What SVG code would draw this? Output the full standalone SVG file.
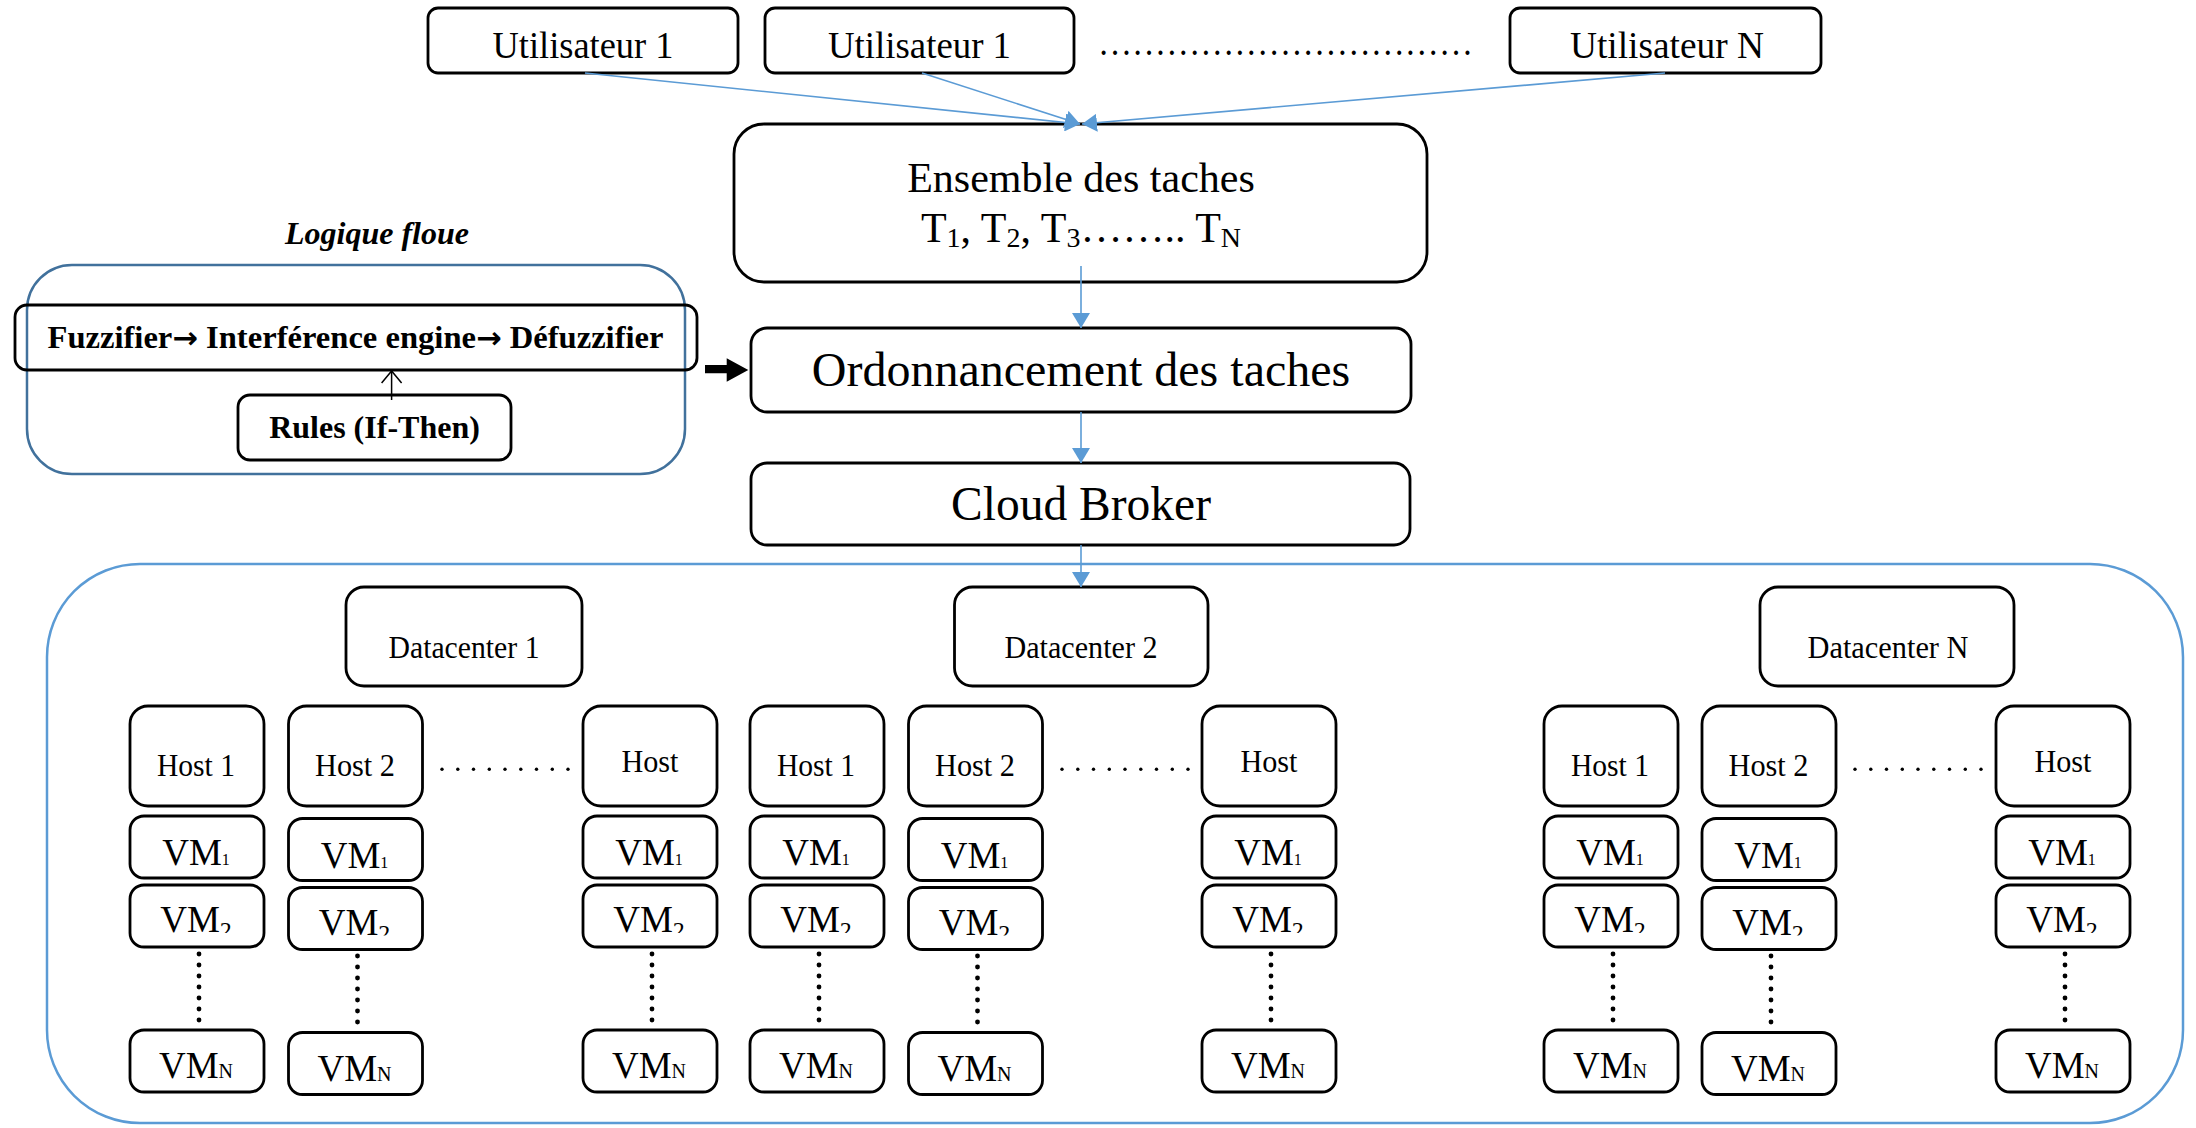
<svg xmlns="http://www.w3.org/2000/svg" width="2196" height="1128" viewBox="0 0 2196 1128">
  <style>
    .box{fill:#fff;stroke:#000;stroke-width:2.8}
    .t{font-family:"Liberation Serif","Times New Roman",serif;fill:#000}
    .b{font-weight:bold}
    .user{font-size:38px;text-anchor:middle}
    .dc{font-size:31.5px;text-anchor:middle}
    .host{font-size:31.5px;text-anchor:middle}
    .vm{font-size:37px;text-anchor:middle}
    .arr{font-family:"DejaVu Sans",sans-serif;font-weight:bold;font-size:30px}
    .link{stroke:#5B9BD5;stroke-width:1.6;fill:none}
    .dot{fill:#000}
  </style>
  <defs>
    <marker id="blueHead" markerUnits="userSpaceOnUse" markerWidth="16" markerHeight="18" refX="15" refY="9" orient="auto">
      <path d="M0,0 L15,9 L0,18 Z" fill="#5B9BD5"/>
    </marker>
    <marker id="openHead" markerUnits="userSpaceOnUse" markerWidth="24" markerHeight="24" refX="13" refY="11" orient="auto">
      <path d="M1,1 L13,11 L1,21" fill="none" stroke="#000" stroke-width="1.5"/>
    </marker>
    <!-- cuts the lower part of the "2" subscript in the VM2 labels -->
    <clipPath id="cut" clipPathUnits="userSpaceOnUse">
      <rect x="0" y="0" width="134" height="48"/>
    </clipPath>
  </defs>

  <!-- users -->
  <g id="user-1a">
    <rect class="box" x="428" y="8" width="310" height="65" rx="10"/>
    <text class="t user" x="583" y="58" textLength="181" lengthAdjust="spacingAndGlyphs">Utilisateur 1</text>
  </g>
  <g id="user-1b">
    <rect class="box" x="765" y="8" width="309" height="65" rx="10"/>
    <text class="t user" x="919.5" y="58" textLength="183" lengthAdjust="spacingAndGlyphs">Utilisateur 1</text>
  </g>
  <text class="t" x="1098" y="55" font-size="37" textLength="375" lengthAdjust="spacingAndGlyphs">……………………………</text>
  <g id="user-n">
    <rect class="box" x="1510" y="8" width="311" height="65" rx="10"/>
    <text class="t user" x="1667" y="58" textLength="194" lengthAdjust="spacingAndGlyphs">Utilisateur N</text>
  </g>

  <!-- task set -->
  <g id="tasks">
    <rect class="box" x="734" y="124" width="693" height="158" rx="30"/>
    <text class="t" x="1081" y="192" font-size="42" text-anchor="middle">Ensemble des taches</text>
    <text class="t" x="1081" y="242" font-size="42" text-anchor="middle">T<tspan font-size="28" dy="5">1</tspan><tspan dy="-5">, T</tspan><tspan font-size="28" dy="5">2</tspan><tspan dy="-5">, T</tspan><tspan font-size="28" dy="5">3</tspan><tspan dy="-5">…….. T</tspan><tspan font-size="28" dy="5">N</tspan></text>
  </g>

  <!-- scheduler -->
  <g id="scheduling">
    <rect class="box" x="751" y="328" width="660" height="84" rx="16"/>
    <text class="t" x="1081" y="386" font-size="48" text-anchor="middle">Ordonnancement des taches</text>
  </g>

  <!-- broker -->
  <g id="broker">
    <rect class="box" x="751" y="463" width="659" height="82" rx="16"/>
    <text class="t" x="1081" y="520" font-size="47.5" text-anchor="middle">Cloud Broker</text>
  </g>

  <!-- fuzzy logic block -->
  <g id="fuzzy-logic">
    <text class="t b" x="377" y="244" font-size="32" font-style="italic" text-anchor="middle">Logique floue</text>
    <rect x="27" y="265" width="658" height="209" rx="45" fill="none" stroke="#41719C" stroke-width="2.5"/>
  </g>
  <g id="fuzzy-chain">
    <rect x="15" y="305" width="682" height="65" rx="12" fill="none" stroke="#000" stroke-width="2.8"/>
    <text class="t b" x="47.5" y="348" font-size="32" textLength="616" lengthAdjust="spacingAndGlyphs">Fuzzifier<tspan class="arr">→</tspan> Interférence engine<tspan class="arr">→</tspan> Défuzzifier</text>
  </g>
  <g id="rules">
    <rect class="box" x="238" y="395" width="273" height="65" rx="12"/>
    <text class="t b" x="374.5" y="438" font-size="32" text-anchor="middle">Rules (If-Then)</text>
  </g>

  <!-- cloud infrastructure -->
  <g id="cloud">
    <rect x="47" y="564" width="2136" height="559" rx="93" fill="none" stroke="#5B9BD5" stroke-width="2.5"/>
  </g>

  <!-- datacenters -->
  <g id="dc-1"><rect class="box" x="346" y="587" width="236" height="99" rx="18"/><text class="t dc" x="464" y="658" textLength="151" lengthAdjust="spacingAndGlyphs">Datacenter 1</text></g>
  <g id="dc-2"><rect class="box" x="954.5" y="587" width="253.5" height="99" rx="18"/><text class="t dc" x="1081" y="658" textLength="153" lengthAdjust="spacingAndGlyphs">Datacenter 2</text></g>
  <g id="dc-n"><rect class="box" x="1760" y="587" width="254" height="99" rx="18"/><text class="t dc" x="1888" y="658" textLength="161" lengthAdjust="spacingAndGlyphs">Datacenter N</text></g>

  <!-- hosts -->
  <g id="dc1-host-1"><rect class="box" x="130" y="706" width="134" height="100" rx="18"/><text class="t host" x="196" y="776" textLength="78" lengthAdjust="spacingAndGlyphs">Host 1</text></g>
  <g id="dc1-host-2"><rect class="box" x="288.5" y="706" width="134" height="100" rx="18"/><text class="t host" x="355" y="776" textLength="80" lengthAdjust="spacingAndGlyphs">Host 2</text></g>
  <g id="dc1-host-n"><rect class="box" x="583" y="706" width="134" height="100" rx="18"/><text class="t host" x="650" y="771.5" textLength="57" lengthAdjust="spacingAndGlyphs">Host</text></g>
  <g id="dc2-host-1"><rect class="box" x="750" y="706" width="134" height="100" rx="18"/><text class="t host" x="816" y="776" textLength="78" lengthAdjust="spacingAndGlyphs">Host 1</text></g>
  <g id="dc2-host-2"><rect class="box" x="908.5" y="706" width="134" height="100" rx="18"/><text class="t host" x="975" y="776" textLength="80" lengthAdjust="spacingAndGlyphs">Host 2</text></g>
  <g id="dc2-host-n"><rect class="box" x="1202" y="706" width="134" height="100" rx="18"/><text class="t host" x="1269" y="771.5" textLength="57" lengthAdjust="spacingAndGlyphs">Host</text></g>
  <g id="dcn-host-1"><rect class="box" x="1544" y="706" width="134" height="100" rx="18"/><text class="t host" x="1610" y="776" textLength="78" lengthAdjust="spacingAndGlyphs">Host 1</text></g>
  <g id="dcn-host-2"><rect class="box" x="1702" y="706" width="134" height="100" rx="18"/><text class="t host" x="1768.5" y="776" textLength="80" lengthAdjust="spacingAndGlyphs">Host 2</text></g>
  <g id="dcn-host-n"><rect class="box" x="1996" y="706" width="134" height="100" rx="18"/><text class="t host" x="2063" y="771.5" textLength="57" lengthAdjust="spacingAndGlyphs">Host</text></g>

  <!-- virtual machines: DC1 -->
  <g id="dc1-h1-vm1" transform="translate(130,816)"><rect class="box" width="134" height="62" rx="14"/><text class="t vm" x="66" y="49">VM<tspan font-size="16">1</tspan></text></g>
  <g id="dc1-h1-vm2" transform="translate(130,885)"><rect class="box" width="134" height="62" rx="14"/><text class="t vm" x="66" y="47" clip-path="url(#cut)">VM<tspan font-size="24" dy="6">2</tspan></text></g>
  <g id="dc1-h1-vmn" transform="translate(130,1030)"><rect class="box" width="134" height="62" rx="14"/><text class="t vm" x="66" y="48">VM<tspan font-size="20">N</tspan></text></g>
  <g id="dc1-h2-vm1" transform="translate(288.5,818.5)"><rect class="box" width="134" height="62" rx="14"/><text class="t vm" x="66" y="49">VM<tspan font-size="16">1</tspan></text></g>
  <g id="dc1-h2-vm2" transform="translate(288.5,887.5)"><rect class="box" width="134" height="62" rx="14"/><text class="t vm" x="66" y="47" clip-path="url(#cut)">VM<tspan font-size="24" dy="6">2</tspan></text></g>
  <g id="dc1-h2-vmn" transform="translate(288.5,1032.5)"><rect class="box" width="134" height="62" rx="14"/><text class="t vm" x="66" y="48">VM<tspan font-size="20">N</tspan></text></g>
  <g id="dc1-hn-vm1" transform="translate(583,816)"><rect class="box" width="134" height="62" rx="14"/><text class="t vm" x="66" y="49">VM<tspan font-size="16">1</tspan></text></g>
  <g id="dc1-hn-vm2" transform="translate(583,885)"><rect class="box" width="134" height="62" rx="14"/><text class="t vm" x="66" y="47" clip-path="url(#cut)">VM<tspan font-size="24" dy="6">2</tspan></text></g>
  <g id="dc1-hn-vmn" transform="translate(583,1030)"><rect class="box" width="134" height="62" rx="14"/><text class="t vm" x="66" y="48">VM<tspan font-size="20">N</tspan></text></g>

  <!-- virtual machines: DC2 -->
  <g id="dc2-h1-vm1" transform="translate(750,816)"><rect class="box" width="134" height="62" rx="14"/><text class="t vm" x="66" y="49">VM<tspan font-size="16">1</tspan></text></g>
  <g id="dc2-h1-vm2" transform="translate(750,885)"><rect class="box" width="134" height="62" rx="14"/><text class="t vm" x="66" y="47" clip-path="url(#cut)">VM<tspan font-size="24" dy="6">2</tspan></text></g>
  <g id="dc2-h1-vmn" transform="translate(750,1030)"><rect class="box" width="134" height="62" rx="14"/><text class="t vm" x="66" y="48">VM<tspan font-size="20">N</tspan></text></g>
  <g id="dc2-h2-vm1" transform="translate(908.5,818.5)"><rect class="box" width="134" height="62" rx="14"/><text class="t vm" x="66" y="49">VM<tspan font-size="16">1</tspan></text></g>
  <g id="dc2-h2-vm2" transform="translate(908.5,887.5)"><rect class="box" width="134" height="62" rx="14"/><text class="t vm" x="66" y="47" clip-path="url(#cut)">VM<tspan font-size="24" dy="6">2</tspan></text></g>
  <g id="dc2-h2-vmn" transform="translate(908.5,1032.5)"><rect class="box" width="134" height="62" rx="14"/><text class="t vm" x="66" y="48">VM<tspan font-size="20">N</tspan></text></g>
  <g id="dc2-hn-vm1" transform="translate(1202,816)"><rect class="box" width="134" height="62" rx="14"/><text class="t vm" x="66" y="49">VM<tspan font-size="16">1</tspan></text></g>
  <g id="dc2-hn-vm2" transform="translate(1202,885)"><rect class="box" width="134" height="62" rx="14"/><text class="t vm" x="66" y="47" clip-path="url(#cut)">VM<tspan font-size="24" dy="6">2</tspan></text></g>
  <g id="dc2-hn-vmn" transform="translate(1202,1030)"><rect class="box" width="134" height="62" rx="14"/><text class="t vm" x="66" y="48">VM<tspan font-size="20">N</tspan></text></g>

  <!-- virtual machines: DC N -->
  <g id="dcn-h1-vm1" transform="translate(1544,816)"><rect class="box" width="134" height="62" rx="14"/><text class="t vm" x="66" y="49">VM<tspan font-size="16">1</tspan></text></g>
  <g id="dcn-h1-vm2" transform="translate(1544,885)"><rect class="box" width="134" height="62" rx="14"/><text class="t vm" x="66" y="47" clip-path="url(#cut)">VM<tspan font-size="24" dy="6">2</tspan></text></g>
  <g id="dcn-h1-vmn" transform="translate(1544,1030)"><rect class="box" width="134" height="62" rx="14"/><text class="t vm" x="66" y="48">VM<tspan font-size="20">N</tspan></text></g>
  <g id="dcn-h2-vm1" transform="translate(1702,818.5)"><rect class="box" width="134" height="62" rx="14"/><text class="t vm" x="66" y="49">VM<tspan font-size="16">1</tspan></text></g>
  <g id="dcn-h2-vm2" transform="translate(1702,887.5)"><rect class="box" width="134" height="62" rx="14"/><text class="t vm" x="66" y="47" clip-path="url(#cut)">VM<tspan font-size="24" dy="6">2</tspan></text></g>
  <g id="dcn-h2-vmn" transform="translate(1702,1032.5)"><rect class="box" width="134" height="62" rx="14"/><text class="t vm" x="66" y="48">VM<tspan font-size="20">N</tspan></text></g>
  <g id="dcn-hn-vm1" transform="translate(1996,816)"><rect class="box" width="134" height="62" rx="14"/><text class="t vm" x="66" y="49">VM<tspan font-size="16">1</tspan></text></g>
  <g id="dcn-hn-vm2" transform="translate(1996,885)"><rect class="box" width="134" height="62" rx="14"/><text class="t vm" x="66" y="47" clip-path="url(#cut)">VM<tspan font-size="24" dy="6">2</tspan></text></g>
  <g id="dcn-hn-vmn" transform="translate(1996,1030)"><rect class="box" width="134" height="62" rx="14"/><text class="t vm" x="66" y="48">VM<tspan font-size="20">N</tspan></text></g>

  <!-- ellipsis dots between hosts and between VMs -->
  <g id="ellipses" class="dot">
    <g id="host-dots-1">
      <circle cx="442" cy="769.3" r="1.7"/><circle cx="457.8" cy="769.3" r="1.7"/><circle cx="473.5" cy="769.3" r="1.7"/><circle cx="489.3" cy="769.3" r="1.7"/><circle cx="505" cy="769.3" r="1.7"/><circle cx="520.8" cy="769.3" r="1.7"/><circle cx="536.5" cy="769.3" r="1.7"/><circle cx="552.3" cy="769.3" r="1.7"/><circle cx="568" cy="769.3" r="1.7"/>
    </g>
    <use href="#host-dots-1" x="620"/>
    <use href="#host-dots-1" x="1413"/>
    <g id="vm-dots-a">
      <circle cx="199" cy="954" r="2.4"/><circle cx="199" cy="965" r="2.4"/><circle cx="199" cy="976" r="2.4"/><circle cx="199" cy="987" r="2.4"/><circle cx="199" cy="998" r="2.4"/><circle cx="199" cy="1009" r="2.4"/><circle cx="199" cy="1020" r="2.4"/>
    </g>
    <use href="#vm-dots-a" x="158.5" y="2"/>
    <use href="#vm-dots-a" x="453"/>
    <use href="#vm-dots-a" x="620"/>
    <use href="#vm-dots-a" x="778.5" y="2"/>
    <use href="#vm-dots-a" x="1072"/>
    <use href="#vm-dots-a" x="1414"/>
    <use href="#vm-dots-a" x="1572" y="2"/>
    <use href="#vm-dots-a" x="1866"/>
  </g>

  <!-- connectors -->
  <g id="connectors">
    <line class="link" x1="585" y1="73" x2="1080" y2="124" marker-end="url(#blueHead)"/>
    <line class="link" x1="922" y1="73" x2="1080" y2="124" marker-end="url(#blueHead)"/>
    <line class="link" x1="1665" y1="73" x2="1082" y2="124" marker-end="url(#blueHead)"/>
    <line class="link" x1="1081" y1="266" x2="1081" y2="328" marker-end="url(#blueHead)"/>
    <line class="link" x1="1081" y1="412" x2="1081" y2="463" marker-end="url(#blueHead)"/>
    <line class="link" x1="1081" y1="545" x2="1081" y2="587" marker-end="url(#blueHead)"/>
    <line x1="391.6" y1="400" x2="391.6" y2="371" stroke="#000" stroke-width="1.5" marker-end="url(#openHead)"/>
    <path d="M705,365 L726.7,365 L726.7,358.3 L748.3,370 L726.7,381.7 L726.7,373.3 L705,373.3 Z" fill="#000"/>
  </g>
</svg>
